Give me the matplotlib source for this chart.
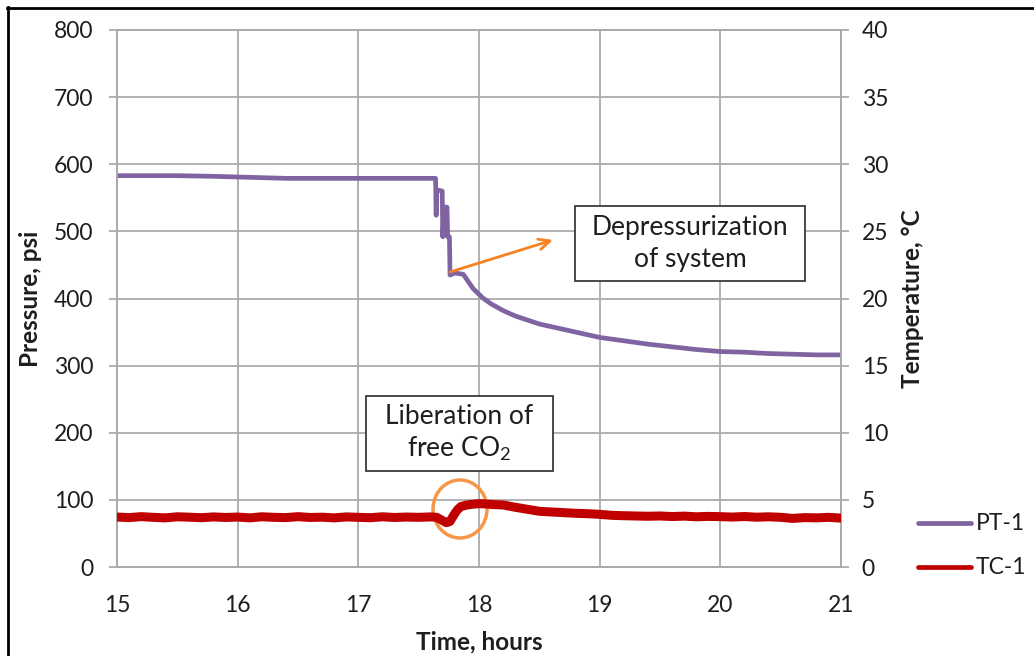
import matplotlib
matplotlib.use("Agg")
import matplotlib.pyplot as plt
from matplotlib.patches import Rectangle, Ellipse
from matplotlib.lines import Line2D

plt.rcParams['font.family'] = ['Lato', 'DejaVu Sans']
plt.rcParams['mathtext.fontset'] = 'custom'
plt.rcParams['mathtext.rm'] = 'Lato'

# Pressure transducer PT-1 (psi)
pt_time = [15.0, 15.5, 15.8, 16.0, 16.4, 17.0, 17.5, 17.64, 17.645, 17.65, 17.695,
           17.70, 17.71, 17.735, 17.74, 17.755, 17.76, 17.80, 17.87, 17.95, 18.03,
           18.1, 18.2, 18.3, 18.4, 18.5, 18.6, 18.7, 18.8, 18.9, 19.0, 19.2, 19.4,
           19.6, 19.8, 20.0, 20.2, 20.4, 20.6, 20.8, 21.0]
pt_psi = [583, 583, 582, 581, 579, 579, 579, 579, 524, 562, 560,
          492, 536, 536, 492, 492, 435, 438, 436, 415, 401,
          392, 382, 374, 368, 362, 358, 354, 350, 346, 342, 337, 332,
          328, 324, 321, 320, 318, 317, 316, 316]

# Thermocouple TC-1 (deg C)
tc_time = [15.0, 15.1, 15.2, 15.3, 15.4, 15.5, 15.6, 15.7, 15.8, 15.9,
           16.0, 16.1, 16.2, 16.3, 16.4, 16.5, 16.6, 16.7, 16.8, 16.9,
           17.0, 17.1, 17.2, 17.3, 17.4, 17.5, 17.6, 17.65, 17.70, 17.73,
           17.76, 17.79, 17.82, 17.85, 17.90, 17.95, 18.0, 18.05, 18.1, 18.2,
           18.3, 18.4, 18.5, 18.6, 18.7, 18.8, 18.9, 19.0, 19.1, 19.2,
           19.3, 19.4, 19.5, 19.6, 19.7, 19.8, 19.9, 20.0, 20.1, 20.2,
           20.3, 20.4, 20.5, 20.6, 20.7, 20.8, 20.9, 21.0]
tc_degc = [3.72, 3.68, 3.75, 3.70, 3.66, 3.74, 3.71, 3.67, 3.73, 3.69,
           3.72, 3.66, 3.74, 3.70, 3.68, 3.75, 3.69, 3.71, 3.66, 3.73,
           3.70, 3.67, 3.74, 3.69, 3.72, 3.70, 3.73, 3.70, 3.45, 3.30,
           3.40, 3.85, 4.25, 4.50, 4.62, 4.68, 4.72, 4.70, 4.66, 4.62,
           4.45, 4.30, 4.15, 4.10, 4.05, 4.00, 3.97, 3.92, 3.85, 3.82,
           3.80, 3.78, 3.80, 3.76, 3.79, 3.74, 3.77, 3.75, 3.72, 3.76,
           3.71, 3.74, 3.70, 3.62, 3.68, 3.66, 3.70, 3.64]

series_names = ['PT-1', 'TC-1']
x_ticks = [15, 16, 17, 18, 19, 20, 21]
p_ticks = [0, 100, 200, 300, 400, 500, 600, 700, 800]
t_ticks = [0, 5, 10, 15, 20, 25, 30, 35, 40]

PURPLE = '#8064A2'
RED = '#C00000'
ORANGE = '#F79646'
ARROW = '#F5821F'
GRID = '#ABABAB'
TXT = '#1E1E1E'
TICK_FS = 16.5
LABEL_FS = 17.5
NOTE_FS = 19

fig = plt.figure(figsize=(10.34, 6.56), dpi=100)
W, H = 1034, 656
ax = fig.add_axes([117 / W, (H - 567) / H, (841 - 117) / W, (567 - 30) / H])
ax2 = ax.twinx()

ax.plot(pt_time, pt_psi, color=PURPLE, lw=3.4, solid_joinstyle='round', zorder=3)
ax2.plot(tc_time, tc_degc, color=RED, lw=6.5, solid_joinstyle='round', zorder=3)

ax.set_xlim(15, 21)
ax.set_ylim(0, 800)
ax2.set_ylim(0, 40)
ax.set_xticks(x_ticks)
ax.set_yticks(p_ticks)
ax2.set_yticks(t_ticks)
ax.grid(True, color=GRID, lw=1.3)
ax.set_axisbelow(True)

for a in (ax, ax2):
    for s in a.spines.values():
        s.set_color(GRID)
        s.set_linewidth(1.3)
ax.tick_params(axis='both', colors=GRID, labelcolor=TXT, labelsize=TICK_FS, width=1.3)
ax.tick_params(axis='y', direction='out', length=6, pad=11)
ax.tick_params(axis='x', direction='out', length=0, pad=20)
ax2.tick_params(axis='y', colors=GRID, labelcolor=TXT, labelsize=TICK_FS, width=1.3,
                direction='out', length=6, pad=9)

ax.set_xlabel('Time, hours', fontsize=LABEL_FS, fontweight='bold', color=TXT)
ax.set_ylabel('Pressure, psi', fontsize=LABEL_FS, fontweight='bold', color=TXT)
ax2.set_ylabel('Temperature, °C', fontsize=LABEL_FS, fontweight='bold', color=TXT)
ax.xaxis.set_label_coords(0.5, (567 - 642) / 537, transform=ax.transAxes)
ax.yaxis.set_label_coords((30 - 117) / 724, 0.5, transform=ax.transAxes)
ax2.yaxis.set_label_coords((912 - 117) / 724, 0.5, transform=ax.transAxes)
ax.xaxis.label.set_va('center')
ax.yaxis.label.set_va('center')
ax2.yaxis.label.set_va('center')


def px(x, y):
    """Pixel position in the figure to left-axis data coordinates."""
    return 15 + (x - 117) / ((841 - 117) / 6), (567 - y) / ((567 - 30) / 800)


# Callout boxes
for (x0, y0, x1, y1) in [(575, 206, 805, 281), (366, 396, 553, 471)]:
    (dx0, dy0), (dx1, dy1) = px(x0, y1), px(x1, y0)
    ax.add_patch(Rectangle((dx0, dy0), dx1 - dx0, dy1 - dy0, facecolor='white',
                           edgecolor='#3A3A3A', lw=1.3, zorder=5))

notes = [('Depressurization', 690, 228), ('of system', 690, 260),
         ('Liberation of', 459.5, 417), (r'free CO$_2$', 459.5, 449)]
for txt, nx, ny in notes:
    cx, cy = px(nx, ny)
    ax.text(cx, cy, txt, ha='center', va='center', fontsize=NOTE_FS, color=TXT, zorder=6)

# Arrow pointing at the pressure drop
ax.annotate('', xy=px(553, 240), xytext=px(450, 272),
            arrowprops=dict(arrowstyle='->,head_length=0.8,head_width=0.38',
                            color=ARROW, lw=2, shrinkA=0, shrinkB=0), zorder=6)

# Circle around the temperature bump
ecx, ecy = px(460, 509)
ax.add_patch(Ellipse((ecx, ecy), 54 / ((841 - 117) / 6), 58 / ((567 - 30) / 800),
                     fill=False, edgecolor=ORANGE, lw=2.5, zorder=6))

# Legend entries at the right edge
for name, color, ly in zip(series_names, [PURPLE, RED], [523, 567]):
    fig.add_artist(Line2D([918 / W, 971 / W], [1 - ly / H, 1 - ly / H], color=color,
                          lw=3.4, solid_capstyle='round'))
    fig.text(976 / W, 1 - ly / H, name, ha='left', va='center', fontsize=TICK_FS, color=TXT)

# Outer frame
fig.add_artist(Line2D([7 / W, 1.0], [1 - 7.5 / H, 1 - 7.5 / H], color='black', lw=2))
fig.add_artist(Line2D([7.5 / W, 7.5 / W], [0, 1 - 7 / H], color='black', lw=2))

fig.savefig('out.png', dpi=100)
